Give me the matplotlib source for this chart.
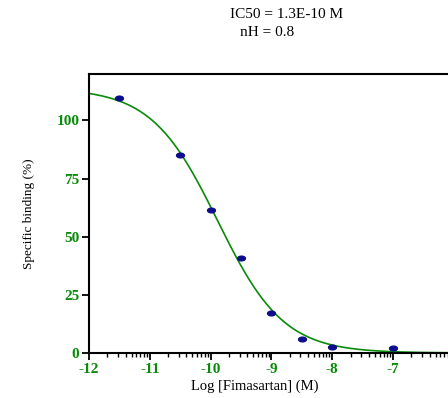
import numpy as np
import matplotlib
matplotlib.use("Agg")
import matplotlib.pyplot as plt
from matplotlib.path import Path

# measured points
log_conc = [-11.5, -10.5, -10.0, -9.5, -9.0, -8.5, -8.0, -7.0]
binding = [109.5, 85.2, 61.5, 41.0, 17.0, 6.2, 2.6, 2.3]

# fitted curve parameters (one-site competition)
log_ic50 = np.log10(1.3e-10)
n_h = 0.8
top, bottom = 113.9, 0.0

x_ticks = [-12, -11, -10, -9, -8, -7, -6]
y_ticks = [0, 25, 50, 75, 100]

green = "#0a8a0a"
navy = "#0c0c8c"

plt.rcParams['font.family'] = ['Liberation Serif', 'DejaVu Serif']

fig = plt.figure(figsize=(4.48, 3.98), dpi=100)
ax = fig.add_axes([0.1987, 0.1131, 0.95, 0.701])

xs = np.linspace(-12, -5, 400)
fit = bottom + (top - bottom) / (1 + 10 ** ((xs - log_ic50) * n_h))
ax.plot(xs, fit, color=green, lw=1.2, zorder=2)

# ellipse marker, wider than tall
t = np.linspace(0, 2 * np.pi, 40)
ell = Path(np.column_stack([np.cos(t), 0.6 * np.sin(t)]))
ax.scatter(log_conc, binding, marker=ell, s=32, color=navy, zorder=3)

ax.set_xlim(-12, -5)
ax.set_ylim(0, 120)
ax.set_xticks(x_ticks)
ax.set_xticklabels([str(v) for v in x_ticks])
ax.set_yticks(y_ticks)
minor = [d + np.log10(k) for d in range(-12, -5) for k in range(2, 10)]
ax.set_xticks(minor, minor=True)

for side in ['left', 'bottom', 'top']:
    ax.spines[side].set_linewidth(1.5)
ax.spines['right'].set_visible(False)
ax.tick_params(axis='both', which='major', direction='out', width=1.3, length=5,
               labelsize=11, labelcolor=green, pad=2)
ax.tick_params(axis='x', which='minor', direction='out', width=1.0, length=3)
for lab in ax.get_xticklabels() + ax.get_yticklabels():
    lab.set_fontweight('bold')

ax.set_ylabel("Specific binding (%)", fontsize=9.5)
ax.yaxis.set_label_coords(-0.128, 0.5)
fig.text(255 / 448, 1 - 386 / 398, "Log [Fimasartan] (M)", ha='center', va='center', fontsize=10.5)

fig.text(287 / 448, 1 - 14 / 398, "IC50 = 1.3E-10 M", ha='center', va='center', fontsize=11)
fig.text(267 / 448, 1 - 32 / 398, "nH = 0.8", ha='center', va='center', fontsize=11)

fig.savefig("out.png", dpi=100)
